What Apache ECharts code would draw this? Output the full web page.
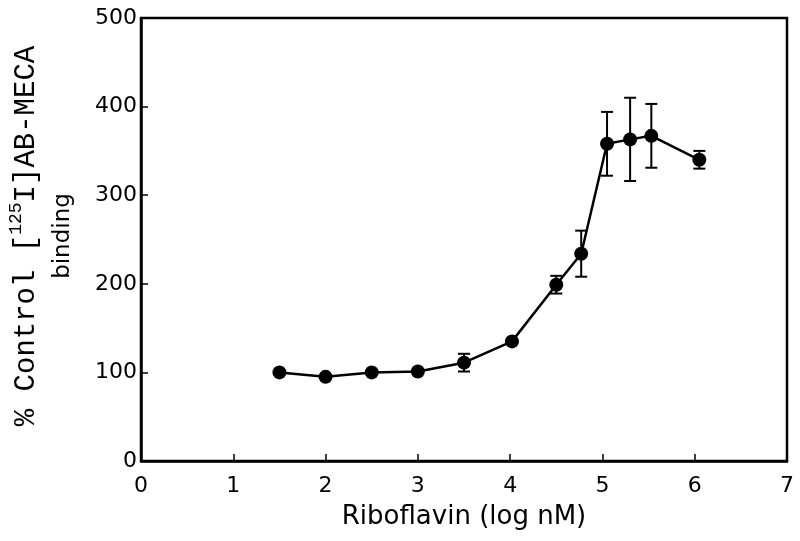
<!DOCTYPE html>
<html>
<head>
<meta charset="utf-8">
<script src="https://cdn.jsdelivr.net/npm/echarts@6/dist/echarts.min.js"></script>
<style>
  html, body { margin: 0; padding: 0; background: #fff; }
  #chart { width: 800px; height: 541px; }
</style>
</head>
<body>
<div id="chart"></div>
<script>
// Data
const xVals = [1.5, 2.0, 2.5, 3.0, 3.5, 4.02, 4.5, 4.77, 5.05, 5.3, 5.53, 6.05];
const yVals = [100, 95, 100, 101, 111, 135, 199, 234, 358, 363, 367, 340];
const errVals = [0, 0, 0, 0, 10, 0, 10, 26, 36, 47, 36, 10];
const xTicks = [0, 1, 2, 3, 4, 5, 6, 7];
const yTicks = [0, 100, 200, 300, 400, 500];

const chart = echarts.init(document.getElementById('chart'), null, { renderer: 'canvas' });

const points = xVals.map((x, i) => [x, yVals[i]]);
const errData = xVals.map((x, i) => [x, yVals[i], errVals[i]]);

const axisFont = 'DejaVu Sans';

chart.setOption({
  animation: false,
  backgroundColor: '#fff',
  grid: {
    left: 141, right: 13, top: 18, bottom: 80,
    show: true, borderColor: '#000', borderWidth: 2.5, backgroundColor: 'transparent'
  },
  xAxis: {
    type: 'value',
    min: xTicks[0], max: xTicks[xTicks.length - 1], interval: 1,
    axisLine: { show: true, onZero: false, lineStyle: { color: '#000', width: 2.5 } },
    axisTick: { show: true, inside: true, length: 7, lineStyle: { color: '#000', width: 1.5 } },
    splitLine: { show: false },
    axisLabel: { color: '#000', fontSize: 22, fontFamily: axisFont, margin: 14 },
    name: 'Riboflavin (log nM)',
    nameLocation: 'middle',
    nameGap: 43,
    nameTextStyle: { color: '#000', fontSize: 26, fontFamily: axisFont }
  },
  yAxis: {
    type: 'value',
    min: yTicks[0], max: yTicks[yTicks.length - 1], interval: 100,
    axisLine: { show: true, onZero: false, lineStyle: { color: '#000', width: 2.5 } },
    axisTick: { show: true, inside: true, length: 7, lineStyle: { color: '#000', width: 1.5 } },
    splitLine: { show: false },
    axisLabel: { color: '#000', fontSize: 22, fontFamily: axisFont, margin: 4 }
  },
  graphic: [{
    type: 'text',
    x: 44, y: 236,
    rotation: Math.PI / 2,
    style: {
      text: '{m|% Control [}{s|125}{m|I]AB-MECA}\n{b|binding}',
      align: 'center',
      verticalAlign: 'middle',
      fill: '#000',
      rich: {
        m: { fontFamily: 'Liberation Mono', fontSize: 29, lineHeight: 38, fill: '#000' },
        s: { fontFamily: 'Liberation Mono', fontSize: 18, lineHeight: 24, verticalAlign: 'top', fill: '#000' },
        b: { fontFamily: 'DejaVu Sans', fontSize: 23, lineHeight: 36, fill: '#000' }
      }
    }
  }],
  series: [
    {
      type: 'line',
      data: points,
      symbol: 'circle',
      symbolSize: 14,
      itemStyle: { color: '#000' },
      lineStyle: { color: '#000', width: 2.5 },
      z: 3
    },
    {
      type: 'custom',
      data: errData,
      z: 4,
      renderItem: function (params, api) {
        const x = api.value(0), y = api.value(1), e = api.value(2);
        if (!e) return { type: 'group', children: [] };
        const top = api.coord([x, y + e]);
        const bot = api.coord([x, y - e]);
        const hw = 6;
        const st = { stroke: '#000', lineWidth: 2 };
        return {
          type: 'group',
          children: [
            { type: 'line', shape: { x1: top[0], y1: top[1], x2: bot[0], y2: bot[1] }, style: st },
            { type: 'line', shape: { x1: top[0] - hw, y1: top[1], x2: top[0] + hw, y2: top[1] }, style: st },
            { type: 'line', shape: { x1: bot[0] - hw, y1: bot[1], x2: bot[0] + hw, y2: bot[1] }, style: st }
          ]
        };
      }
    }
  ]
});
</script>
</body>
</html>
